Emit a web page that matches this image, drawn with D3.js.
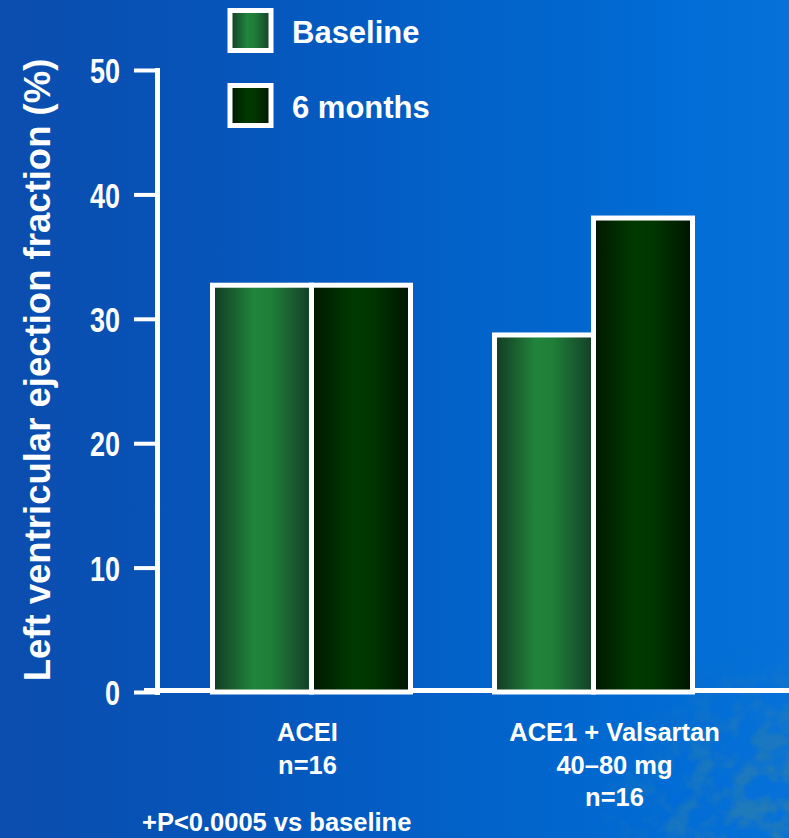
<!DOCTYPE html>
<html>
<head>
<meta charset="utf-8">
<script src="https://cdn.jsdelivr.net/npm/d3@7"></script>
<style>
  html, body { margin: 0; padding: 0; background: #0a5cc0; }
  svg { display: block; }
</style>
</head>
<body>
<svg id="chart" width="789" height="838"></svg>
<script>
// ---- data ----
const groups = ["ACEI", "ACE1 + Valsartan"];
const groupLabels = [["ACEI", "n=16"], ["ACE1 + Valsartan", "40–80 mg", "n=16"]];
const series = ["Baseline", "6 months"];
const baselineValues = [32.7, 28.7];
const sixMonthValues = [32.7, 38.1];
const yTicks = [0, 10, 20, 30, 40, 50];
const yTitle = "Left ventricular ejection fraction (%)";
const footnote = "+P<0.0005 vs baseline";

// ---- layout ----
const W = 789, H = 838;
const FONT = "'Liberation Sans', Arial, Helvetica, sans-serif";
const svg = d3.select("#chart");
const defs = svg.append("defs");

// background: blue wash, darker on the left
const bg = defs.append("linearGradient").attr("id", "bgGrad")
  .attr("x1", 0).attr("x2", 1).attr("y1", 0).attr("y2", 0);
[[0, "#0b4dae"], [0.3, "#0655ba"], [0.6, "#0262c9"], [0.85, "#016cd5"], [1, "#0672d9"]]
  .forEach(([o, c]) => bg.append("stop").attr("offset", o).attr("stop-color", c));

// bar fills: cylindrical shading
function shade(id, stops) {
  const g = defs.append("linearGradient").attr("id", id)
    .attr("x1", 0).attr("x2", 1).attr("y1", 0).attr("y2", 0);
  stops.forEach(([o, c]) => g.append("stop").attr("offset", o).attr("stop-color", c));
}
shade("fillBase", [[0, "#113a20"], [0.12, "#174f2b"], [0.42, "#21853c"], [0.6, "#1f7d38"], [0.88, "#17512d"], [1, "#123d24"]]);
shade("fillSix", [[0, "#001500"], [0.15, "#002500"], [0.42, "#003a00"], [0.62, "#003500"], [0.87, "#002000"], [1, "#001300"]]);
const fills = { "Baseline": "url(#fillBase)", "6 months": "url(#fillSix)" };

// mottled texture in the lower-right corner
const grain = defs.append("filter").attr("id", "grain")
  .attr("x", 0).attr("y", 0).attr("width", "100%").attr("height", "100%");
grain.append("feTurbulence").attr("type", "fractalNoise")
  .attr("baseFrequency", 0.045).attr("numOctaves", 3).attr("seed", 7);
grain.append("feColorMatrix").attr("type", "matrix")
  .attr("values", "0 0 0 0 0.02  0 0 0 0 0.20  0 0 0 0 0.45  3.6 0 0 0 -1.45");
const fade = defs.append("radialGradient").attr("id", "cornerFade")
  .attr("gradientUnits", "userSpaceOnUse")
  .attr("cx", W).attr("cy", H).attr("r", 200);
fade.append("stop").attr("offset", 0).attr("stop-color", "#fff").attr("stop-opacity", 1);
fade.append("stop").attr("offset", 0.55).attr("stop-color", "#fff").attr("stop-opacity", 0.6);
fade.append("stop").attr("offset", 1).attr("stop-color", "#fff").attr("stop-opacity", 0);
defs.append("mask").attr("id", "cornerMask")
  .append("rect").attr("width", W).attr("height", H).attr("fill", "url(#cornerFade)");

svg.append("rect").attr("width", W).attr("height", H).attr("fill", "url(#bgGrad)");
svg.append("rect").attr("x", W - 220).attr("y", H - 220).attr("width", 220).attr("height", 220)
  .attr("filter", "url(#grain)").attr("mask", "url(#cornerMask)");

// ---- scales ----
const y = d3.scaleLinear().domain([0, 50]).range([692, 70]);
const x0 = d3.scaleBand().domain(groups).range([212.5, 692.5]).paddingInner(0.298).paddingOuter(0);
const x1 = d3.scaleBand().domain(series).range([0, x0.bandwidth()]).padding(0);

const rows = groups.map((g, i) => ({
  group: g,
  values: [
    { key: series[0], value: baselineValues[i] },
    { key: series[1], value: sixMonthValues[i] }
  ]
}));

// ---- baseline (x axis line) ----
svg.append("line")
  .attr("x1", 144).attr("x2", W)
  .attr("y1", y(0) - 1.5).attr("y2", y(0) - 1.5)
  .attr("stroke", "#fff").attr("stroke-width", 5);

// ---- y axis ----
const axisX = 157;
const yAxis = svg.append("g")
  .attr("transform", `translate(${axisX},0)`)
  .call(d3.axisLeft(y).tickValues(yTicks).tickSize(23).tickSizeOuter(0).tickPadding(14));
yAxis.select(".domain").attr("stroke", "#fff").attr("stroke-width", 5)
  .attr("stroke-linecap", "square");
yAxis.selectAll(".tick line").attr("stroke", "#fff").attr("stroke-width", 4);
// narrow, tall tick numerals
yAxis.selectAll(".tick text")
  .attr("fill", "#fff")
  .attr("font-family", FONT)
  .attr("font-weight", "bold")
  .attr("font-size", 35)
  .attr("dy", "0.36em")
  .attr("textLength", d => String(d).length * 15)
  .attr("lengthAdjust", "spacingAndGlyphs");

// ---- bars ----
const barGroups = svg.append("g").selectAll("g")
  .data(rows).join("g")
  .attr("transform", d => `translate(${x0(d.group)},0)`);
barGroups.selectAll("rect")
  .data(d => d.values).join("rect")
  .attr("x", d => x1(d.key))
  .attr("width", x1.bandwidth())
  .attr("y", d => y(d.value))
  .attr("height", d => y(0) - y(d.value))
  .attr("fill", d => fills[d.key])
  .attr("stroke", "#fff")
  .attr("stroke-width", 5);

// ---- category labels ----
const labelShift = [-4, 21];
const lineGap = 32.5;
groups.forEach((g, i) => {
  const cx = x0(g) + x0.bandwidth() / 2 + labelShift[i];
  const t = svg.append("text")
    .attr("text-anchor", "middle")
    .attr("fill", "#fff")
    .attr("font-family", FONT)
    .attr("font-weight", "bold")
    .attr("font-size", 25.5);
  groupLabels[i].forEach((line, k) => {
    t.append("tspan")
      .attr("x", cx)
      .attr("y", 741 + k * lineGap)
      .text(line);
  });
});

// ---- y axis title ----
svg.append("text")
  .attr("transform", "translate(50,370) rotate(-90)")
  .attr("text-anchor", "middle")
  .attr("fill", "#fff")
  .attr("font-family", FONT)
  .attr("font-weight", "bold")
  .attr("font-size", 36.5)
  .text(yTitle);

// ---- legend ----
const legend = svg.append("g");
const legendRows = legend.selectAll("g")
  .data(series).join("g")
  .attr("transform", (d, i) => `translate(230,${10.5 + i * 75})`);
legendRows.append("rect")
  .attr("width", 41).attr("height", 40)
  .attr("fill", d => fills[d])
  .attr("stroke", "#fff").attr("stroke-width", 5);
legendRows.append("text")
  .attr("x", 62).attr("y", 32.5)
  .attr("fill", "#fff")
  .attr("font-family", FONT)
  .attr("font-weight", "bold")
  .attr("font-size", 31)
  .text(d => d);

// ---- footnote ----
svg.append("text")
  .attr("x", 142).attr("y", 831)
  .attr("fill", "#fff")
  .attr("font-family", FONT)
  .attr("font-weight", "bold")
  .attr("font-size", 25.5)
  .text(footnote);
</script>
</body>
</html>
